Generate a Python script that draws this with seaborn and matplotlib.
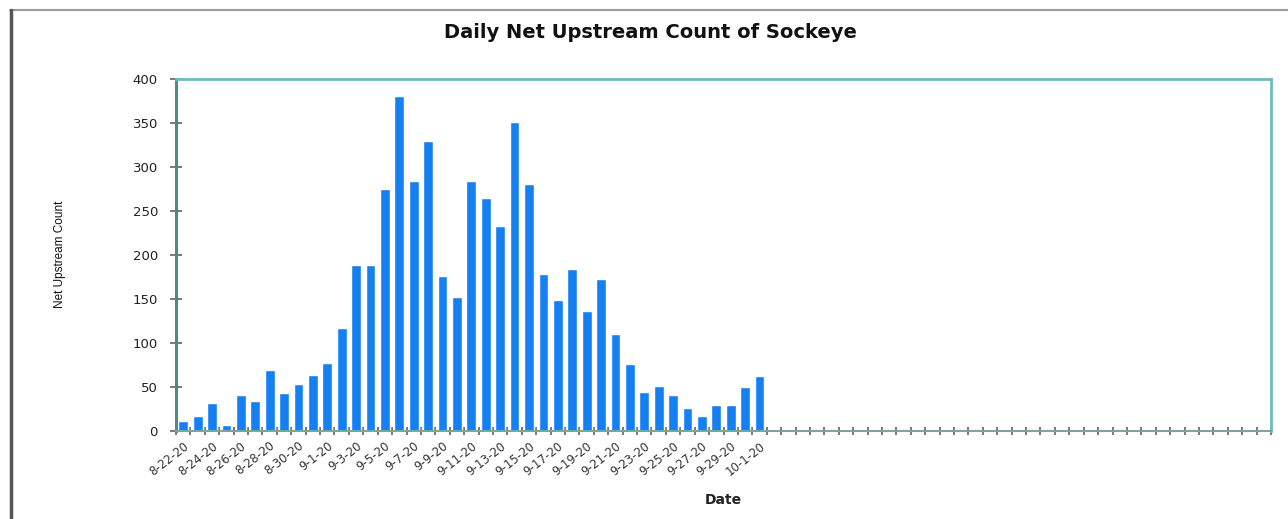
import datetime as dt
import numpy as np
import pandas as pd
import matplotlib
matplotlib.use("Agg")
import matplotlib.pyplot as plt
import seaborn as sns
from matplotlib.lines import Line2D

# ---- data ----
dates = ["8-22-20", "8-23-20", "8-24-20", "8-25-20", "8-26-20", "8-27-20", "8-28-20",
         "8-29-20", "8-30-20", "8-31-20", "9-1-20", "9-2-20", "9-3-20", "9-4-20",
         "9-5-20", "9-6-20", "9-7-20", "9-8-20", "9-9-20", "9-10-20", "9-11-20",
         "9-12-20", "9-13-20", "9-14-20", "9-15-20", "9-16-20", "9-17-20", "9-18-20",
         "9-19-20", "9-20-20", "9-21-20", "9-22-20", "9-23-20", "9-24-20", "9-25-20",
         "9-26-20", "9-27-20", "9-28-20", "9-29-20", "9-30-20", "10-1-20"]
counts = [11, 17, 32, 7, 41, 34, 69, 43, 53, 64, 77, 117, 189, 189, 275, 381, 284,
          330, 176, 152, 284, 265, 233, 351, 281, 178, 149, 184, 136, 173, 110, 76,
          44, 51, 41, 26, 17, 30, 30, 50, 63]
# empty (not yet counted) days that follow on the axis
empty_days = ["10-2-20", "10-3-20", "10-4-20", "10-5-20", "10-6-20", "10-7-20", "10-8-20",
              "10-9-20", "10-10-20", "10-11-20", "10-12-20", "10-13-20", "10-14-20",
              "10-15-20", "10-16-20", "10-17-20", "10-18-20", "10-19-20", "10-20-20",
              "10-21-20", "10-22-20", "10-23-20", "10-24-20", "10-25-20", "10-26-20",
              "10-27-20", "10-28-20", "10-29-20", "10-30-20", "10-31-20", "11-1-20",
              "11-2-20", "11-3-20", "11-4-20", "11-5-20"]
y_ticks = [0, 50, 100, 150, 200, 250, 300, 350, 400]

order = dates + empty_days
df = pd.DataFrame({"Date": dates, "Count": counts})

sns.set_theme(style="white")
plt.rcParams["font.family"] = ["DejaVu Sans"]

fig = plt.figure(figsize=(12.88, 5.19), dpi=100)
ax = fig.add_axes([176 / 1288, 1 - 431 / 519, (1271 - 176) / 1288, (431 - 79) / 519])

sns.barplot(data=df, x="Date", y="Count", order=order, color="#1580f2",
            saturation=1, width=0.68, ax=ax)

ax.set_xlim(-0.5, len(order) - 0.5)
ax.set_ylim(0, 400)
ax.set_yticks(y_ticks)
ax.set_yticklabels([str(v) for v in y_ticks], fontsize=9.5, color="#222222")

# labels on every other data day
lab_pos = list(range(0, len(dates), 2))
ax.set_xticks(lab_pos)
ax.set_xticklabels([dates[i] for i in lab_pos], rotation=38, ha="right",
                   rotation_mode="anchor", fontsize=8.5, color="#333333")
ax.set_xticks(np.arange(-0.5, len(order), 1.0), minor=True)
ax.tick_params(axis="x", which="major", length=0, pad=6)
ax.tick_params(axis="x", which="minor", bottom=True, length=6, width=1.1,
               direction="inout", color="#555555")
ax.tick_params(axis="y", which="major", left=True, length=8, width=1.1,
               direction="inout", color="#555555", pad=9)

for side in ["top", "right"]:
    ax.spines[side].set_visible(True)
    ax.spines[side].set_color("#6cbcbc")
    ax.spines[side].set_linewidth(2)
ax.spines["left"].set_color("#4f8a86")
ax.spines["left"].set_linewidth(2.2)
ax.spines["bottom"].set_color("#7fa3a0")
ax.spines["bottom"].set_linewidth(1.5)

ax.set_xlabel("Date", fontsize=10, fontweight="bold", labelpad=11, color="#222222")
ax.set_ylabel("")
fig.text(60 / 1288, 1 - 254 / 519, "Net Upstream Count", rotation=90, fontsize=8.5,
         ha="center", va="center", color="#111111", family=["Liberation Sans"])
fig.text(650 / 1288, 1 - 32 / 519, "Daily Net Upstream Count of Sockeye",
         fontsize=14, fontweight="bold", ha="center", va="center", color="#111111")

# outer frame lines of the screenshot
fig.add_artist(Line2D([10 / 1288, 1], [1 - 10 / 519, 1 - 10 / 519], transform=fig.transFigure,
                      color="#9a9a9a", linewidth=1.5))
fig.add_artist(Line2D([11 / 1288, 11 / 1288], [0, 1 - 10 / 519], transform=fig.transFigure,
                      color="#555555", linewidth=2.5))

fig.savefig("out.png", dpi=100)
